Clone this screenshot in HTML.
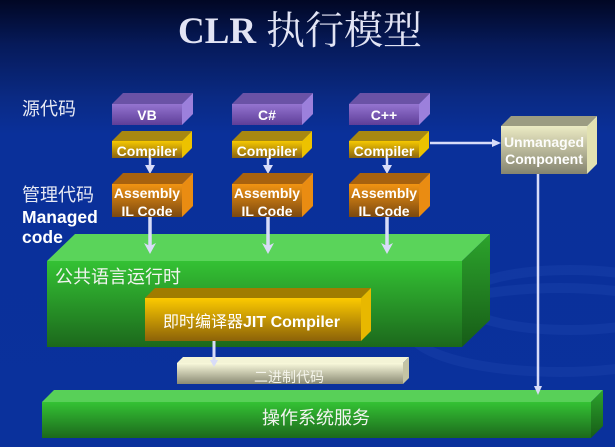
<!DOCTYPE html>
<html><head><meta charset="utf-8"><style>
html,body{margin:0;padding:0;background:#0a309a;}
svg{display:block;}
.cj{font-family:"Liberation Sans","Noto Sans CJK SC",sans-serif;}
.b{font-family:"Liberation Sans",sans-serif;font-weight:bold;fill:#fff;}
</style></head><body>
<svg width="615" height="447" viewBox="0 0 615 447" xmlns="http://www.w3.org/2000/svg">
<defs>
<linearGradient id="bg" x1="0" y1="0" x2="0" y2="1">
<stop offset="0" stop-color="#010724"/>
<stop offset="0.1" stop-color="#061a5a"/>
<stop offset="0.22" stop-color="#0a2a84"/>
<stop offset="0.3" stop-color="#0a309a"/>
<stop offset="1" stop-color="#0a319c"/>
</linearGradient>
<linearGradient id="pur" x1="0" y1="0" x2="0" y2="1"><stop offset="0" stop-color="#9474d0"/><stop offset="1" stop-color="#5e3e98"/></linearGradient>
<linearGradient id="yel" x1="0" y1="0" x2="0" y2="1"><stop offset="0" stop-color="#f6c800"/><stop offset="1" stop-color="#8a6410"/></linearGradient>
<linearGradient id="org" x1="0" y1="0" x2="0" y2="1"><stop offset="0" stop-color="#f29412"/><stop offset="1" stop-color="#7a4810"/></linearGradient>
<linearGradient id="crm" x1="0" y1="0" x2="0" y2="1"><stop offset="0" stop-color="#ecebc4"/><stop offset="1" stop-color="#858470"/></linearGradient>
<linearGradient id="crm2" x1="0" y1="0" x2="0" y2="1"><stop offset="0" stop-color="#fafadc"/><stop offset="1" stop-color="#8a8a74"/></linearGradient>
<linearGradient id="grn" x1="0" y1="0" x2="0" y2="1"><stop offset="0" stop-color="#34c234"/><stop offset="1" stop-color="#1c681c"/></linearGradient>
<linearGradient id="grnr" x1="0" y1="0" x2="0" y2="1"><stop offset="0" stop-color="#2ca42c"/><stop offset="1" stop-color="#175c17"/></linearGradient>
<linearGradient id="jit" x1="0" y1="0" x2="0" y2="1"><stop offset="0" stop-color="#fcca00"/><stop offset="1" stop-color="#8c6208"/></linearGradient>
</defs>
<rect width="615" height="447" fill="url(#bg)"/>
<!-- faint swooshes -->
<g fill="none" stroke="#3a60c8" stroke-opacity="0.16" stroke-width="10">
<ellipse cx="560" cy="330" rx="150" ry="42"/>
<ellipse cx="570" cy="300" rx="110" ry="30"/>
</g>

<!-- Title -->
<text x="178" y="43" font-family="Liberation Serif,serif" font-weight="bold" font-size="37" fill="#e2e4f4">CLR</text>
<text x="266" y="44" font-family="'Liberation Serif','Noto Serif CJK SC',serif" font-size="39" fill="#e2e4f4">执行模型</text>

<!-- Left labels -->
<text class="cj" x="22" y="109" dominant-baseline="central" font-size="18" fill="#e8eaf4">源代码</text>
<text class="cj" x="22" y="195" dominant-baseline="central" font-size="18" fill="#e8eaf4">管理代码</text>
<text class="b" x="22" y="223" font-size="17.5">Managed</text>
<text class="b" x="22" y="243" font-size="17.5">code</text>

<!-- Source boxes -->
<g>
<polygon points="112,104 123,93 193,93 182,104" fill="#6a52a6"/>
<polygon points="182,104 193,93 193,114 182,125" fill="#9c80dc"/>
<rect x="112" y="104" width="70" height="21" fill="url(#pur)"/>
<text class="b" x="147" y="120" font-size="14" text-anchor="middle">VB</text>
<polygon points="232,104 243,93 313,93 302,104" fill="#6a52a6"/>
<polygon points="302,104 313,93 313,114 302,125" fill="#9c80dc"/>
<rect x="232" y="104" width="70" height="21" fill="url(#pur)"/>
<text class="b" x="267" y="120" font-size="14" text-anchor="middle">C#</text>
<polygon points="349,104 360,93 430,93 419,104" fill="#6a52a6"/>
<polygon points="419,104 430,93 430,114 419,125" fill="#9c80dc"/>
<rect x="349" y="104" width="70" height="21" fill="url(#pur)"/>
<text class="b" x="384" y="120" font-size="14" text-anchor="middle">C++</text>
</g>

<!-- Compiler boxes -->
<g>
<polygon points="112,141 122,131 192,131 182,141" fill="#a88810"/>
<polygon points="182,141 192,131 192,148 182,158" fill="#ecc200"/>
<rect x="112" y="141" width="70" height="17" fill="url(#yel)"/>
<text class="b" x="147" y="156" font-size="14" text-anchor="middle">Compiler</text>
<polygon points="232,141 242,131 312,131 302,141" fill="#a88810"/>
<polygon points="302,141 312,131 312,148 302,158" fill="#ecc200"/>
<rect x="232" y="141" width="70" height="17" fill="url(#yel)"/>
<text class="b" x="267" y="156" font-size="14" text-anchor="middle">Compiler</text>
<polygon points="349,141 359,131 429,131 419,141" fill="#a88810"/>
<polygon points="419,141 429,131 429,148 419,158" fill="#ecc200"/>
<rect x="349" y="141" width="70" height="17" fill="url(#yel)"/>
<text class="b" x="384" y="156" font-size="14" text-anchor="middle">Compiler</text>
</g>

<!-- Compiler->Assembly arrows -->
<g stroke="#d8dcf8" stroke-width="2.5">
<line x1="150" y1="158" x2="150" y2="167"/>
<line x1="268" y1="158" x2="268" y2="167"/>
<line x1="387" y1="158" x2="387" y2="167"/>
</g>
<g fill="#d8dcf8">
<polygon points="145,165 155,165 150,174"/>
<polygon points="263,165 273,165 268,174"/>
<polygon points="382,165 392,165 387,174"/>
</g>

<!-- Assembly boxes -->
<g>
<polygon points="112,184 123,173 193,173 182,184" fill="#a8620e"/>
<polygon points="182,184 193,173 193,206 182,217" fill="#ea8c12"/>
<rect x="112" y="184" width="70" height="33" fill="url(#org)"/>
<text class="b" x="147" y="198" font-size="14" text-anchor="middle">Assembly</text>
<text class="b" x="147" y="216" font-size="14" text-anchor="middle">IL Code</text>
<polygon points="232,184 243,173 313,173 302,184" fill="#a8620e"/>
<polygon points="302,184 313,173 313,206 302,217" fill="#ea8c12"/>
<rect x="232" y="184" width="70" height="33" fill="url(#org)"/>
<text class="b" x="267" y="198" font-size="14" text-anchor="middle">Assembly</text>
<text class="b" x="267" y="216" font-size="14" text-anchor="middle">IL Code</text>
<polygon points="349,184 360,173 430,173 419,184" fill="#a8620e"/>
<polygon points="419,184 430,173 430,206 419,217" fill="#ea8c12"/>
<rect x="349" y="184" width="70" height="33" fill="url(#org)"/>
<text class="b" x="384" y="198" font-size="14" text-anchor="middle">Assembly</text>
<text class="b" x="384" y="216" font-size="14" text-anchor="middle">IL Code</text>
</g>

<!-- Unmanaged -->
<polygon points="501,126 511,116 597,116 587,126" fill="#9c9c82"/>
<polygon points="587,126 597,116 597,164 587,174" fill="#e2e2b2"/>
<rect x="501" y="126" width="86" height="48" fill="url(#crm)"/>
<text class="b" x="544" y="147" font-size="14" text-anchor="middle" fill-opacity="0.95">Unmanaged</text>
<text class="b" x="544" y="164" font-size="14" text-anchor="middle">Component</text>

<!-- C++ compiler -> Unmanaged -->
<line x1="430" y1="143" x2="494" y2="143" stroke="#d8dcf8" stroke-width="2.5"/>
<polygon points="492,139 501,143 492,147" fill="#d8dcf8"/>

<!-- CLR big box -->
<polygon points="47,261 75,234 490,234 462,261" fill="#5ad45a"/>
<polygon points="462,261 490,234 490,320 462,347" fill="url(#grnr)"/>
<rect x="47" y="261" width="415" height="86" fill="url(#grn)"/>
<text class="cj" x="55" y="277" dominant-baseline="central" font-size="18" fill="#f2f4f0">公共语言运行时</text>

<!-- Assembly -> CLR arrows -->
<g stroke="#d8dcf8" stroke-width="3.5">
<line x1="150" y1="217" x2="150" y2="246"/>
<line x1="268" y1="217" x2="268" y2="246"/>
<line x1="387" y1="217" x2="387" y2="246"/>
</g>
<g fill="#d8dcf8">
<polygon points="144,243 150,246 156,243 150,254"/>
<polygon points="262,243 268,246 274,243 268,254"/>
<polygon points="381,243 387,246 393,243 387,254"/>
</g>

<!-- JIT box -->
<polygon points="145,298 155,288 371,288 361,298" fill="#a07c00"/>
<polygon points="361,298 371,288 371,331 361,341" fill="#e8b800"/>
<rect x="145" y="298" width="216" height="43" fill="url(#jit)"/>
<text x="163" y="322" dominant-baseline="central" font-size="16" fill="#fff"><tspan font-family="'Liberation Sans','Noto Sans CJK SC',sans-serif">即时编译器</tspan><tspan font-family="Liberation Sans,sans-serif" font-weight="bold">JIT Compiler</tspan></text>

<!-- Binary code -->
<polygon points="177,363 183,357 409,357 403,363" fill="#f4f4d6"/>
<polygon points="403,363 409,357 409,378 403,384" fill="#c4c4a4"/>
<rect x="177" y="363" width="226" height="21" fill="url(#crm2)"/>
<text class="cj" x="289" y="377" dominant-baseline="central" text-anchor="middle" font-size="14" fill="#f4f4ea">二进制代码</text>

<!-- JIT -> binary arrow -->
<line x1="214" y1="341" x2="214" y2="362" stroke="#d8dcf8" stroke-width="3"/>
<polygon points="210,360 218,360 214,367" fill="#d8dcf8"/>

<!-- OS box -->
<polygon points="42,402 54,390 603,390 591,402" fill="#58d058"/>
<polygon points="591,402 603,390 603,426 591,438" fill="url(#grnr)"/>
<rect x="42" y="402" width="549" height="36" fill="url(#grn)"/>
<text class="cj" x="316" y="418" dominant-baseline="central" text-anchor="middle" font-size="18" fill="#f2f4f0">操作系统服务</text>

<!-- Unmanaged -> OS line -->
<line x1="538" y1="174" x2="538" y2="388" stroke="#d8dcf8" stroke-width="2.5"/>
<polygon points="534,386 542,386 538,395" fill="#d8dcf8"/>
</svg>
</body></html>
